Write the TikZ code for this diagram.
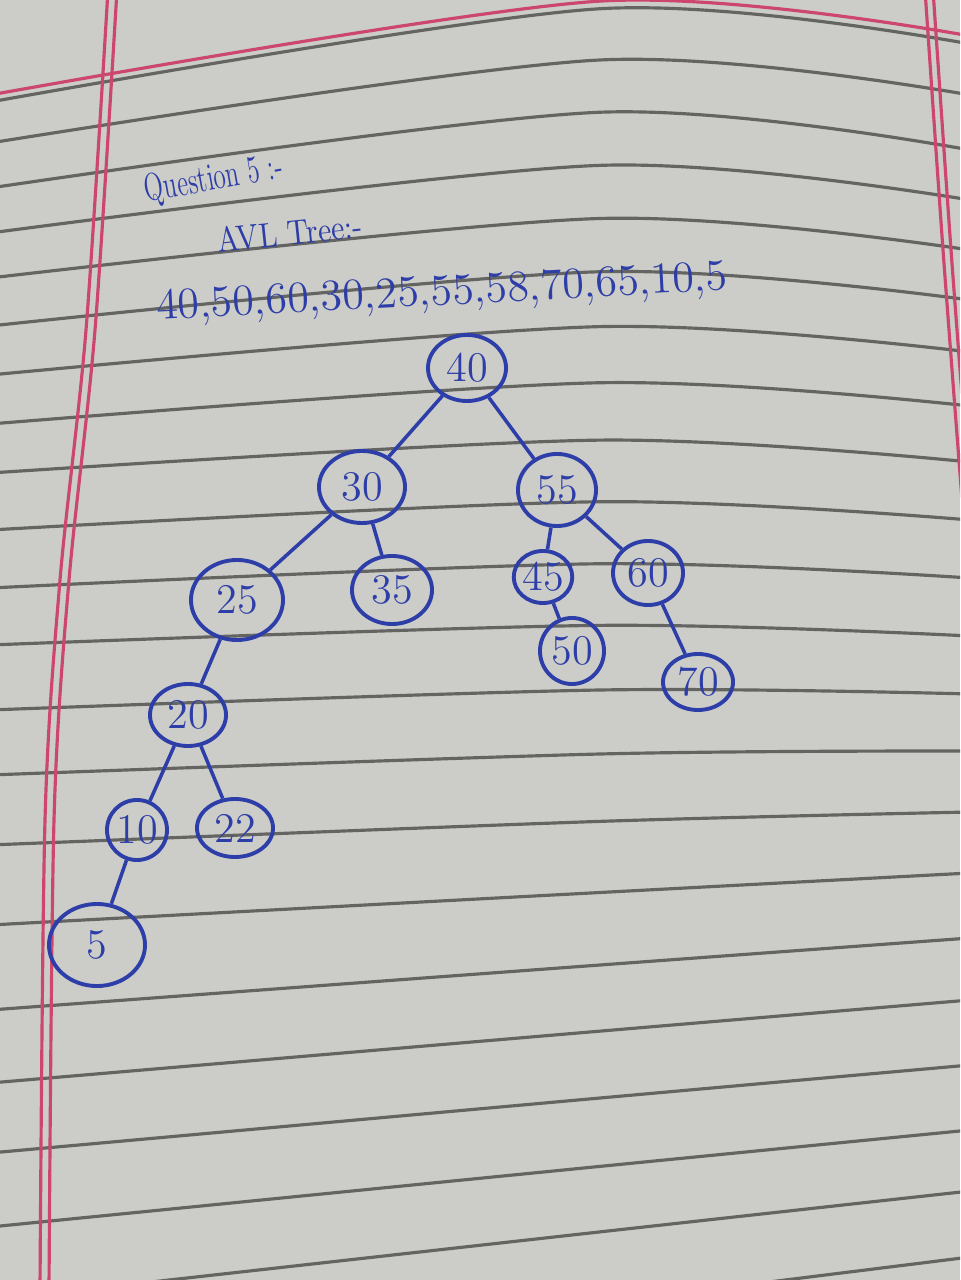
\documentclass[tikz,border=0pt]{standalone}
\usepackage{tikz}
\usetikzlibrary{shapes.geometric}
\definecolor{ink}{RGB}{45,62,168}
\definecolor{paper}{RGB}{204,204,200}
\definecolor{rule}{RGB}{100,100,98}
\definecolor{margin}{RGB}{205,70,110}
\tikzset{%
  keynode/.style 2 args={draw=ink, ellipse, line width=1.1pt, inner sep=0pt,
    minimum width=#1, minimum height=#2, text=ink, font=\fontsize{12}{14}\selectfont},% tree key
  branch/.style={draw=ink, line width=1pt},% edge between keys
  hand/.style={text=ink, inner sep=0pt},% header text
  ruling/.style={rule, line width=0.9pt},% notebook line
  redline/.style={margin, line width=0.9pt}% margin line
}

\begin{document}
\begin{tikzpicture}[x=0.01cm, y=-0.01cm]
\useasboundingbox (0,0) rectangle (960,1280);
\clip (0,0) rectangle (960,1280);
\fill[paper] (0,0) rectangle (960,1280);

% notebook rulings
\foreach \l/\r/\a in {102/44/57, 143/95/53, 188/150/52, 233/200/47, 278/250/42,
    326/300/38, 375/352/34, 424/406/30, 473/462/26, 530/520/22, 588/578/18,
    645/636/14, 710/694/10, 775/751/6, 845/812/3, 925/873/0, 1010/938/0,
    1083/1000/0, 1153/1065/0, 1227/1130/0, 1300/1191/0, 1380/1257/0}
  \draw[ruling] plot[smooth] coordinates {(-10,\l) (600,{\l+0.625*(\r-\l)-\a}) (970,\r)};
\draw[redline] plot[smooth] coordinates {(-10,95) (600,{95+0.625*(36-95)-57}) (970,36)};
\draw[redline] plot[smooth] coordinates {(108,-10) (86,330) (60,580) (45,820) (40,1290)};
\draw[redline] plot[smooth] coordinates {(117,-10) (95,330) (69,580) (54,820) (49,1290)};
\draw[redline] plot[smooth] coordinates {(925,-10) (943,250) (962,500)};
\draw[redline] plot[smooth] coordinates {(933,-10) (951,250) (970,500)};

% header
\node[hand, font=\fontsize{11}{13}\selectfont, rotate=10, xscale=0.65] (title) at (214,180) {Question 5 :-};
\node[hand, font=\fontsize{10}{12}\selectfont, rotate=6, xscale=0.85] (kind) at (290,233) {AVL Tree:-};
\node[hand, font=\fontsize{12.5}{15}\selectfont, rotate=3] (keys) at (442,294) {40,50,60,30,25,55,58,70,65,10,5};

% tree
\node[keynode={7.8mm}{6.6mm}] (n40) at (467,368) {40};
\node[keynode={8.6mm}{7.2mm}] (n30) at (362,487) {30};
\node[keynode={7.8mm}{7.2mm}] (n55) at (557,490) {55};
\node[keynode={9.2mm}{8.0mm}] (n25) at (237,600) {25};
\node[keynode={8.0mm}{6.8mm}] (n35) at (392,590) {35};
\node[keynode={5.8mm}{5.2mm}] (n45) at (543,577) {45};
\node[keynode={7.0mm}{6.4mm}] (n60) at (648,573) {60};
\node[keynode={6.4mm}{6.6mm}] (n50) at (572,651) {50};
\node[keynode={7.0mm}{5.6mm}] (n70) at (698,682) {70};
\node[keynode={7.6mm}{6.2mm}] (n20) at (188,715) {20};
\node[keynode={6.0mm}{6.0mm}] (n10) at (137,830) {10};
\node[keynode={7.6mm}{5.8mm}] (n22) at (235,828) {22};
\node[keynode={9.6mm}{8.2mm}] (n5) at (97,945) {5};

\draw[branch] (n40) -- (n30);
\draw[branch] (n40) -- (n55);
\draw[branch] (n30) -- (n25);
\draw[branch] (n30) -- (n35);
\draw[branch] (n55) -- (n45);
\draw[branch] (n55) -- (n60);
\draw[branch] (n45) -- (n50);
\draw[branch] (n60) -- (n70);
\draw[branch] (n25) -- (n20);
\draw[branch] (n20) -- (n10);
\draw[branch] (n20) -- (n22);
\draw[branch] (n10) -- (n5);
\end{tikzpicture}
\end{document}
